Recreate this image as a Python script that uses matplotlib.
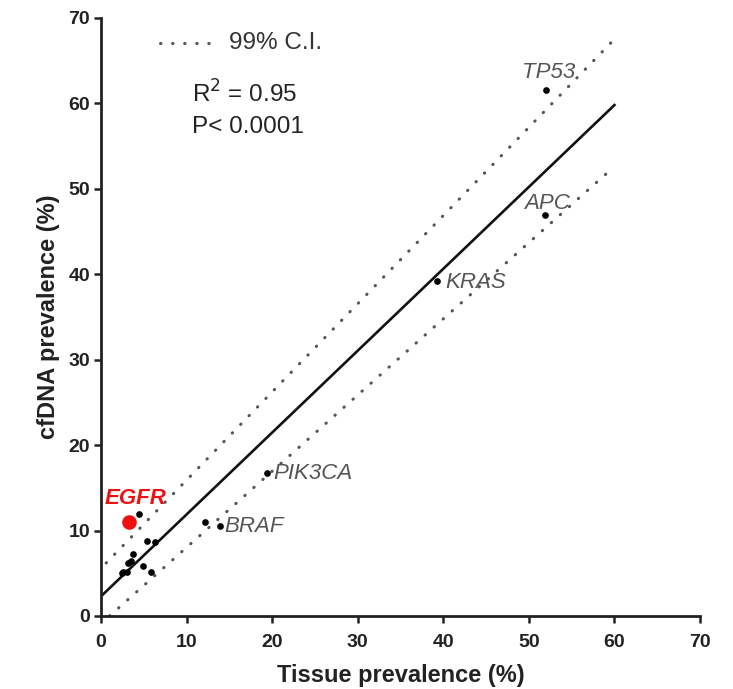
import matplotlib.pyplot as plt

plt.rcParams['font.family'] = ['Liberation Sans', 'DejaVu Sans']

# tissue vs cfDNA prevalence (%)
tissue = [52.0, 51.9, 39.3, 19.4, 13.9, 12.2, 4.4, 5.4, 6.3, 3.7, 3.5, 3.2, 2.6, 3.0, 2.45, 4.9, 5.8]
cfdna = [61.6, 46.9, 39.2, 16.7, 10.5, 11.0, 11.9, 8.8, 8.7, 7.3, 6.4, 6.2, 5.1, 5.1, 5.0, 5.8, 5.1]
egfr_x, egfr_y = 3.3, 11.0

gene_labels = ['TP53', 'APC', 'KRAS', 'PIK3CA', 'BRAF']
label_x = [52.3, 52.1, 40.2, 20.1, 14.4]
label_y = [63.6, 48.3, 39.0, 16.7, 10.5]
label_ha = ['center', 'center', 'left', 'left', 'left']

fit_x = [0, 60]
fit_y = [2.3, 59.8]
upper_x = [0.6, 59.7]
upper_y = [6.2, 67.2]
lower_x = [1.0, 59.2]
lower_y = [0.0, 51.9]

dot_style = dict(color='#555555', lw=2.2, ls=(0, (0.15, 3.8)), dash_capstyle='round')

fig = plt.figure(figsize=(7.33, 6.89), dpi=100)
ax = fig.add_axes([0.1378, 0.106, 0.8172, 0.868])

ax.plot(fit_x, fit_y, color='#111111', lw=1.9)
ax.plot(upper_x, upper_y, **dot_style)
ax.plot(lower_x, lower_y, **dot_style)

ax.plot(tissue, cfdna, 'o', color='black', ms=3.8, mec='black')
ax.plot(egfr_x, egfr_y, 'o', color='#ee1111', ms=9.5)

for lab, lx, ly, ha in zip(gene_labels, label_x, label_y, label_ha):
    ax.text(lx, ly, lab, style='italic', color='#555555', fontsize=16,
            ha=ha, va='center')
ax.text(4.0, 13.8, 'EGFR', style='italic', weight='bold', color='#ee1111',
        fontsize=16, ha='center', va='center')

# legend / stats
ax.plot([6.9, 13.7], [67.1, 67.1], **dot_style)
ax.text(15.0, 67.1, '99% C.I.', fontsize=17.5, va='center', color='#333333')
ax.text(10.6, 61.1, r'R$^2$ = 0.95', fontsize=17.5, va='center', color='#222222')
ax.text(10.6, 57.2, 'P< 0.0001', fontsize=17.5, va='center', color='#222222')

ax.set_xlim(0, 70)
ax.set_ylim(0, 70)
ax.set_xticks(range(0, 71, 10))
ax.set_yticks(range(0, 71, 10))
ax.tick_params(direction='out', length=5, width=1.8, labelsize=14, colors='#222222', pad=3)
ax.tick_params(axis='x', pad=8)
for t in ax.get_xticklabels() + ax.get_yticklabels():
    t.set_fontweight('bold')
for s in ['top', 'right']:
    ax.spines[s].set_visible(False)
for s in ['left', 'bottom']:
    ax.spines[s].set_linewidth(2)
    ax.spines[s].set_color('#222222')
ax.set_xlabel('Tissue prevalence (%)', fontsize=17, weight='bold', color='#222222', labelpad=9)
ax.set_ylabel('cfDNA prevalence (%)', fontsize=17, weight='bold', color='#222222', labelpad=6)

fig.savefig('out.png', dpi=100)
